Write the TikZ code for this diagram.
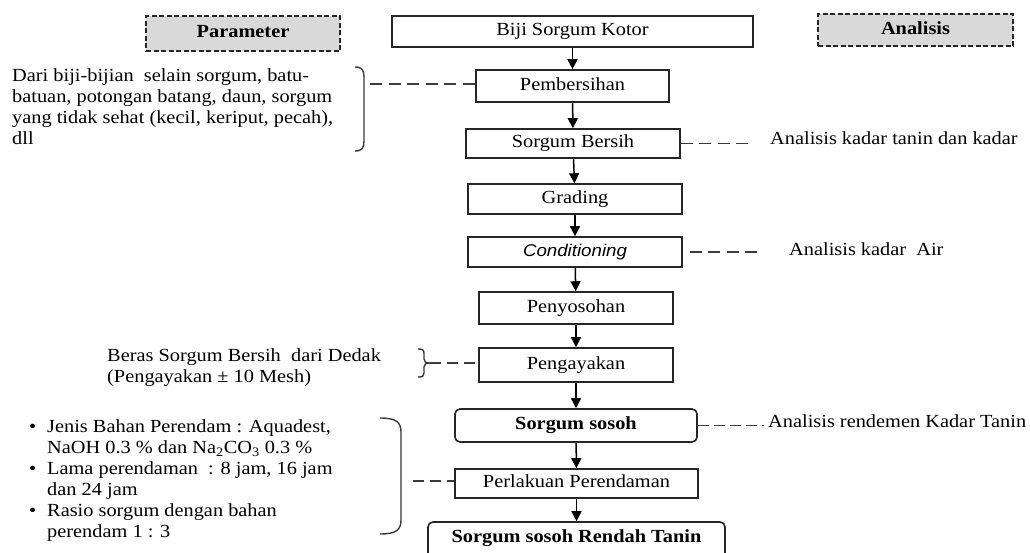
\documentclass[tikz,border=0pt]{standalone}
\usepackage{fontspec}
\setmainfont{Liberation Serif}[FakeStretch=1.1]
\newfontfamily\condfont{Liberation Sans}[FakeStretch=1.1]
\usetikzlibrary{arrows.meta}
\definecolor{boxcol}{HTML}{262626}
\definecolor{hdrfill}{HTML}{D9D9D9}
\definecolor{dashcol}{HTML}{3A3A3A}
\begin{document}
\begin{tikzpicture}[x=1pt,y=-1pt,
  font=\fontsize{18.5}{21}\selectfont,
  box/.style={draw=boxcol, line width=1.6pt, inner sep=0pt, text height=12.5pt, text depth=4pt, fill=white},
  hdr/.style={draw=boxcol, line width=1.2pt, dash pattern=on 5pt off 2.5pt, fill=hdrfill, inner sep=0pt, text height=12.5pt, text depth=4pt},
  flow/.style={-{Triangle[length=10pt,width=10pt]}, line width=1.5pt, draw=black},
  dashln/.style={draw=dashcol, line width=1.2pt, dash pattern=on 12pt off 6.5pt},
  brk/.style={draw=dashcol, line width=1.4pt},
  txt/.style={inner sep=0pt, anchor=base west},
  blk/.style={inner sep=0pt, anchor=north west, align=left}]
\useasboundingbox (0,0) rectangle (1030,552);
\clip (0,0) rectangle (1030,552);
\fill[white] (0,0) rectangle (1030,552);

% headers
\node[hdr, minimum width=194pt, minimum height=35pt] (param) at (243,33.5) {\bfseries Parameter};
\node[hdr, minimum width=195pt, minimum height=32pt] (anal) at (915.5,30) {\bfseries Analisis};

% flow boxes
\node[box, minimum width=361pt, minimum height=31pt] (biji) at (572.5,31.5) {Biji Sorgum Kotor};
\node[box, minimum width=193pt, minimum height=32pt] (pemb) at (572.5,86) {Pembersihan};
\node[box, minimum width=214pt, minimum height=29pt] (bersih) at (573,143.5) {Sorgum Bersih};
\node[box, minimum width=214pt, minimum height=30pt] (grad) at (575,199) {Grading};
\node[box, minimum width=214pt, minimum height=30pt] (cond) at (575,252) {\condfont\itshape\fontsize{17}{20}\selectfont Conditioning};
\node[box, minimum width=194pt, minimum height=32pt] (penyo) at (576,308) {Penyosohan};
\node[box, minimum width=194pt, minimum height=34pt] (penga) at (576,365) {Pengayakan};
\node[box, rounded corners=5pt, minimum width=242pt, minimum height=33pt] (sosoh) at (576,425.5) {\bfseries Sorgum sosoh};
\node[box, minimum width=243pt, minimum height=29pt] (perl) at (576.5,483.5) {Perlakuan Perendaman};
\node[box, rounded corners=5pt, minimum width=297pt, minimum height=40pt, text depth=12pt] (rendah) at (576.5,542) {\bfseries Sorgum sosoh Rendah Tanin};

% arrows
\draw[flow] (biji) -- (pemb);
\draw[flow] (pemb) -- (bersih);
\draw[flow] (bersih) -- (grad);
\draw[flow] (grad) -- (cond);
\draw[flow] (cond) -- (penyo);
\draw[flow] (penyo) -- (penga);
\draw[flow] (penga) -- (sosoh);
\draw[flow] (sosoh) -- (perl);
\draw[flow] (perl) -- (rendah);

% left parameter texts
\node[blk] (tDari) at (12,66.1) {\fontsize{18.5}{21.7}\selectfont\strut Dari biji-bijian\ \ selain sorgum, batu-\\batuan, potongan batang, daun, sorgum\\yang tidak sehat (kecil, keriput, pecah),\\dll};
\node[blk] (tBeras) at (107,348.4) {\fontsize{18.5}{17}\selectfont\strut Beras Sorgum Bersih\ \ dari Dedak\\(Pengayakan ± 10 Mesh)};
\node[blk] (tBullet) at (29,419.1) {\fontsize{18.5}{18.8}\selectfont
  \strut\makebox[18pt][l]{\textbullet}Jenis Bahan Perendam : Aquadest,\\
  \hspace*{18pt}NaOH 0.3 \% dan Na\textsubscript{2}CO\textsubscript{3} 0.3 \%\\
  \makebox[18pt][l]{\textbullet}Lama perendaman\ \ : 8 jam, 16 jam\\
  \hspace*{18pt}dan 24 jam\\
  \makebox[18pt][l]{\textbullet}Rasio sorgum dengan bahan\\
  \hspace*{18pt}perendam 1 : 3};

% brackets
\draw[brk] (355,67) .. controls (362,67) and (364,70) .. (364,77) -- (364,141) .. controls (364,148) and (362,151) .. (355,151);
\draw[brk] (418,349) .. controls (423,349) and (424,350) .. (424,354) -- (424,359) .. controls (424,362) and (426,363) .. (430,363) .. controls (426,363) and (424,364) .. (424,367) -- (424,373) .. controls (424,376) and (423,377) .. (418,377);
\draw[brk] (380,418) .. controls (396,418) and (401,422) .. (401,432) -- (401,520) .. controls (401,530) and (396,534) .. (380,534);

% left dashed connectors
\coordinate (brP) at (370,84);
\coordinate (brK) at (430,363);
\coordinate (brR) at (413,481);
\draw[dashln] (brP) -- (brP -| pemb.west);
\draw[dashln, dash pattern=on 11pt off 6pt] (brK) -- (brK -| penga.west);
\draw[dashln, dash pattern=on 11pt off 6pt] (brR) -- (brR -| perl.west);

% right analysis texts
\node[txt] (tBersih) at (770,144) {Analisis kadar tanin dan kadar};
\node[txt] (tCond) at (789,255.5) {Analisis kadar\ \ Air};
\node[txt] (tSosoh) at (768,427.5) {Analisis rendemen Kadar Tanin};
\coordinate (eB) at (752,143.5);
\coordinate (eC) at (759,252);
\coordinate (eS) at (764,425.5);
\draw[dashln] (bersih.east) -- (eB);
\draw[dashln, shorten <=7pt] (cond.east) -- (eC);
\draw[dashln, dash pattern=on 11pt off 5pt] (sosoh.east) -- (eS);
\end{tikzpicture}
\end{document}
